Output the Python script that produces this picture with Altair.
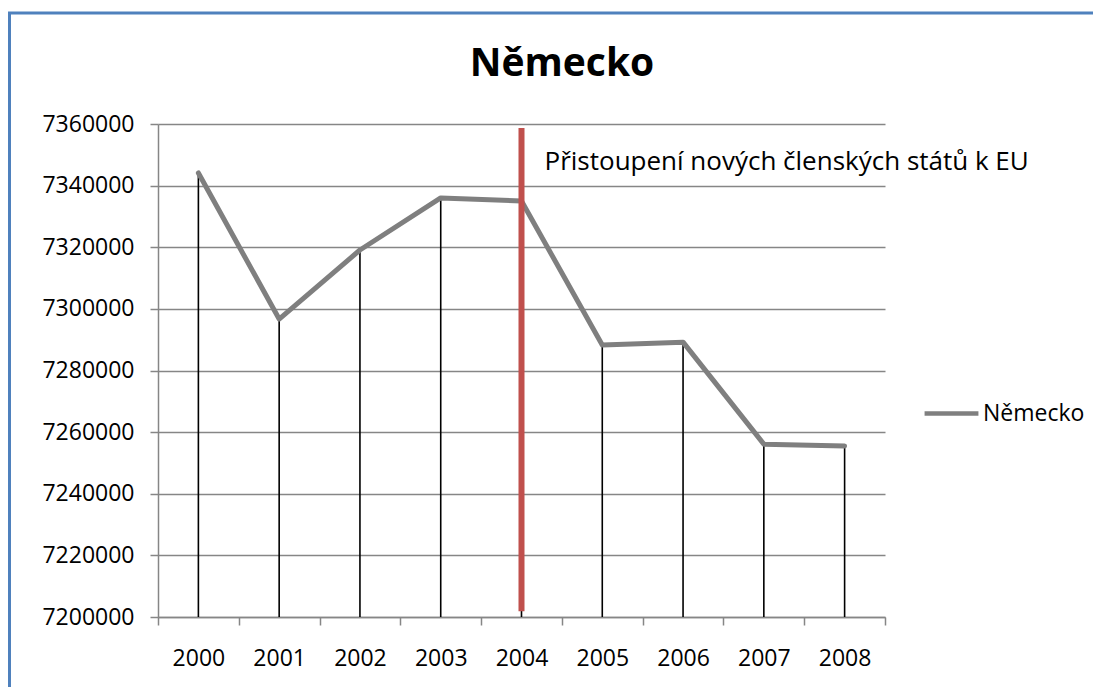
import altair as alt
import pandas as pd

years = [2000, 2001, 2002, 2003, 2004, 2005, 2006, 2007, 2008]
values = [7344100, 7296700, 7319100, 7336000, 7335000, 7288300, 7289200, 7256100, 7255500]
series_name = "Německo"
chart_title = "Německo"
event_year = 2004
event_label = "Přistoupení nových členských států k EU"
y_min, y_max = 7200000, 7360000
y_ticks = list(range(7200000, 7360001, 20000))

FONT = "Open Sans"
W, H = 727, 493

df = pd.DataFrame({"year": years, "value": values, "series": [series_name] * len(years)})
df["base"] = y_min

x_ticks = [y - 0.5 for y in years] + [years[-1] + 0.5]
x_scale = alt.Scale(domain=[years[0] - 0.5, years[-1] + 0.5], nice=False, zero=False)
y_scale = alt.Scale(domain=[y_min, y_max], nice=False, zero=False)

x_axis = alt.Axis(
    values=x_ticks,
    labelExpr=f"datum.value > {years[-1]} ? '' : format(datum.value + 0.5, 'd')",
    labelOffset=W / len(years) / 2,
    labelOverlap=False,
    labelBound=False,
    labelFlush=False,
    grid=False,
    title=None,
    tickSize=8,
    labelPadding=22,
    labelFont=FONT,
    labelFontSize=23,
    labelColor="#000000",
    domainColor="#868686",
    tickColor="#868686",
    domainWidth=1.5,
    tickWidth=1.5,
)
y_axis = alt.Axis(
    values=y_ticks,
    format="d",
    grid=True,
    gridColor="#868686",
    gridWidth=1.5,
    title=None,
    tickSize=8,
    labelPadding=16,
    labelFont=FONT,
    labelFontSize=23,
    labelColor="#000000",
    domainColor="#868686",
    tickColor="#868686",
    domainWidth=1.5,
    tickWidth=1.5,
)

base = alt.Chart(df)

drops = base.mark_rule(color="#000000", strokeWidth=1.6).encode(
    x=alt.X("year:Q", scale=x_scale, axis=x_axis),
    y=alt.Y("base:Q", scale=y_scale, axis=y_axis),
    y2="value:Q",
)

line = base.mark_line(strokeWidth=5, strokeJoin="round", strokeCap="round").encode(
    x=alt.X("year:Q", scale=x_scale),
    y=alt.Y("value:Q", scale=y_scale),
    color=alt.Color(
        "series:N",
        scale=alt.Scale(range=["#7F7F7F"]),
        legend=alt.Legend(
            title=None,
            orient="none",
            legendX=764,
            legendY=260,
            symbolType="stroke",
            symbolSize=2900,
            symbolStrokeWidth=4.5,
            labelFont=FONT,
            labelFontSize=23,
            labelColor="#000000",
            labelOffset=2,
        ),
    ),
)

event_df = pd.DataFrame({"year": [event_year], "top": [7358700], "bottom": [7201900],
                         "label_y": [7347700], "label": [event_label]})
event = alt.Chart(event_df)
red = event.mark_rule(color="#C0504D", strokeWidth=6).encode(
    x=alt.X("year:Q", scale=x_scale),
    y=alt.Y("top:Q", scale=y_scale),
    y2="bottom:Q",
)
label = event.mark_text(align="left", baseline="middle", dx=23, font=FONT, fontSize=26,
                        color="#000000").encode(
    x=alt.X("year:Q", scale=x_scale),
    y=alt.Y("label_y:Q", scale=y_scale),
    text="label:N",
)

title_df = pd.DataFrame({"t": [chart_title]})
title = alt.Chart(title_df).mark_text(
    align="center", baseline="alphabetic", font=FONT, fontSize=39, fontWeight="bold",
    color="#000000"
).encode(x=alt.value(404), y=alt.value(-48), text="t:N")

frame = alt.Chart(pd.DataFrame({"k": [0]})).mark_rect(
    fill=None, stroke="#4F81BD", strokeWidth=3, clip=False
).encode(
    x=alt.value(-148.5), x2=alt.value(1000), y=alt.value(-111), y2=alt.value(700)
)

chart = alt.layer(drops, line, red, label, title, frame).properties(
    width=W,
    height=H,
    autosize=alt.AutoSizeParams(type="none"),
    padding={"left": 150, "top": 116, "right": 208, "bottom": 70},
).configure_view(stroke=None)

chart.save("out.html", embed_options={"renderer": "svg", "actions": False})
